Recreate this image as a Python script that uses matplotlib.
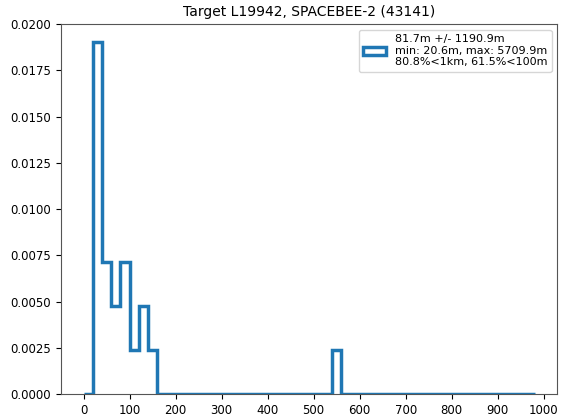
import numpy as np
import matplotlib
matplotlib.use("Agg")
import matplotlib.pyplot as plt

# bin edges (m) and counts
bin_edges = np.arange(0, 1000, 20)
bin_counts = np.zeros(len(bin_edges) - 1)
bin_counts[1:8] = [8, 3, 2, 3, 1, 2, 1]
bin_counts[27] = 1

legend_text = "81.7m +/- 1190.9m\nmin: 20.6m, max: 5709.9m\n80.8%<1km, 61.5%<100m"
title_text = "Target L19942, SPACEBEE-2 (43141)"

plt.rcParams["font.size"] = 8.5

fig = plt.figure(figsize=(5.65, 4.17), dpi=100)
ax = fig.add_axes([0.108, 0.055, 0.878, 0.887])

centers = 0.5 * (bin_edges[:-1] + bin_edges[1:])
ax.hist(centers, bins=bin_edges, weights=bin_counts, density=True,
        histtype="step", linewidth=2.5, color="#1f77b4", label=legend_text)

ax.set_ylim(0, 0.02)
ax.set_xticks(np.arange(0, 1001, 100))
ax.set_title(title_text, fontsize=10)
for sp in ax.spines.values():
    sp.set_color("#555555")
ax.legend(loc="upper right", fontsize=8)

fig.savefig("out.png", dpi=100)
plt.close(fig)
